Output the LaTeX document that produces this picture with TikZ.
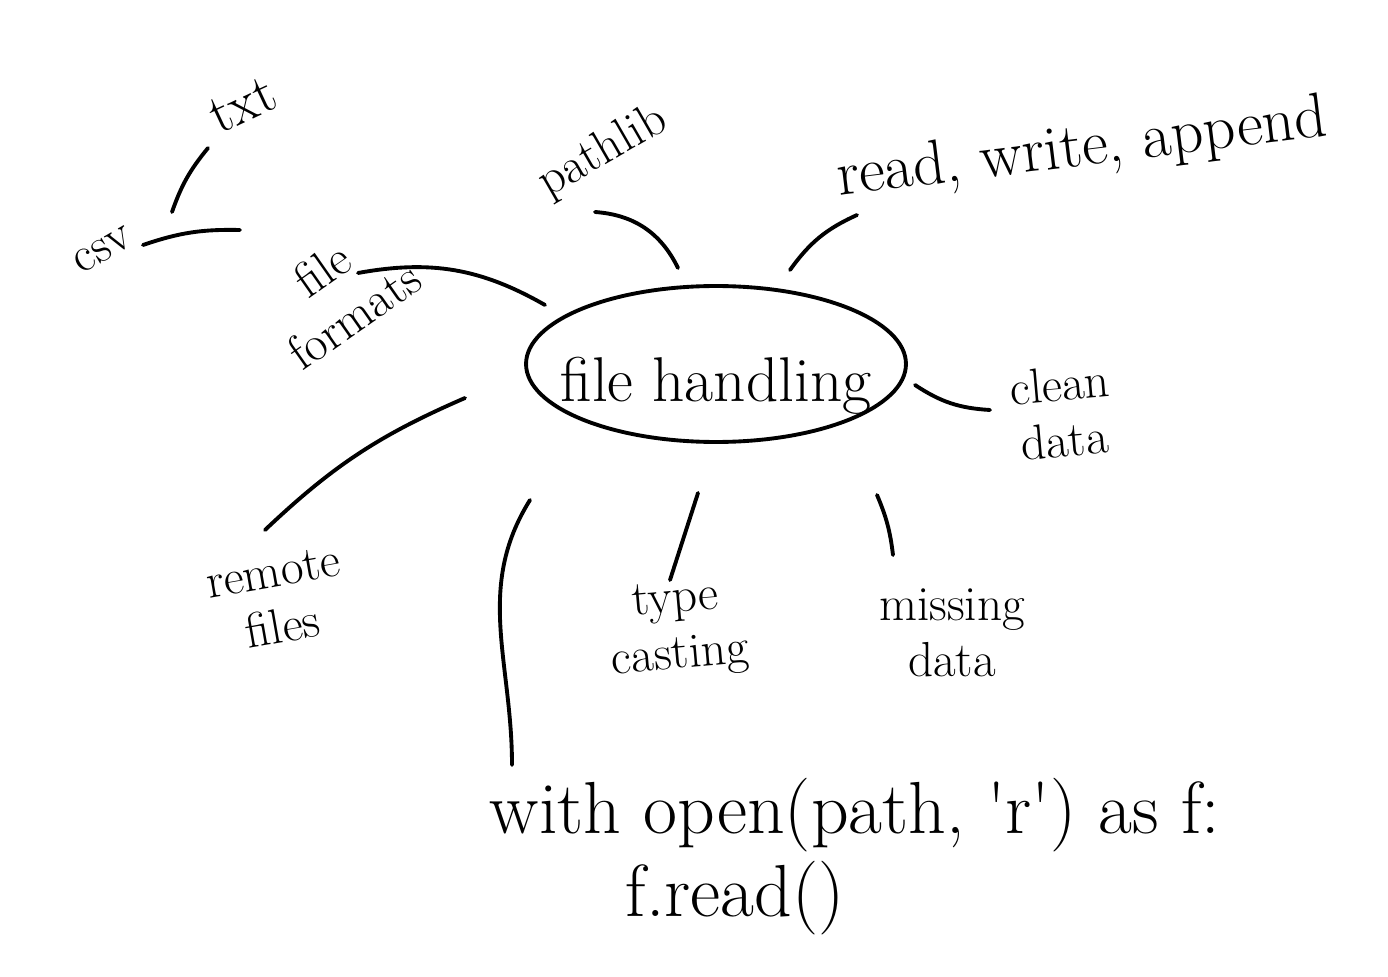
\documentclass[tikz,border=0pt]{standalone}
\usetikzlibrary{shapes.geometric}

\begin{document}
\begin{tikzpicture}[
		x=0.02cm, y=-0.02cm,
		link/.style={line width=2.2pt, line cap=round},
		topic/.style={font=\fontsize{28}{32}\selectfont, align=center, inner sep=1pt},
		hubnode/.style={draw, ellipse, line width=2.2pt, minimum width=7.6cm, minimum height=3.12cm, inner sep=0pt, font=\fontsize{36}{40}\selectfont},
		codeline/.style={font=\fontsize{42}{46}\selectfont, inner sep=1pt},
	]
		\useasboundingbox (0,0) rectangle (1388,976);
		\node[hubnode] (hub) at (716,364) {\raisebox{-0.75cm}[0pt][0pt]{\makebox[0pt]{file handling}}};
		\node[topic, rotate=30] (csv) at (103,250) {csv};
		\node[topic, rotate=25, font=\fontsize{32}{36}\selectfont] (txt) at (243,105) {txt};
		\node[topic, rotate=35] (fmt) at (338,292) {file\\formats};
		\node[topic, rotate=30] (plib) at (603,152) {pathlib};
		\node[topic, rotate=7, font=\fontsize{36}{40}\selectfont] (rwa) at (1082,150) {read, write, append};
		\node[topic, rotate=5] (clean) at (1062,412) {clean\\data};
		\node[topic, rotate=10] (remote) at (278,600) {remote\\files};
		\node[topic, rotate=5] (cast) at (678,630) {type\\casting};
		\node[topic] (missing) at (952,633) {missing\\data};
		\node[codeline] (code) at (855,815) {with open(path, \textquotesingle r\textquotesingle) as f:};
		\node[codeline] (fread) at (735,898) {f.read()};

		\draw[link] ([shift={(69,-38)}]csv.center) to[bend left=10] ([shift={(-35,43)}]txt.center);
		\draw[link] ([shift={(40,-5)}]csv.center) to[bend left=10] ([shift={(-98,-62)}]fmt.center);
		\draw[link] ([shift={(-171,-59)}]hub.center) to[bend right=20] ([shift={(20,-19)}]fmt.center);
		\draw[link] ([shift={(-38,-96)}]hub.center) to[bend right=30] ([shift={(-8,60)}]plib.center);
		\draw[link] ([shift={(74,-94)}]hub.center) to[bend left=15] ([shift={(-225,65)}]rwa.center);
		\draw[link] ([shift={(199,21)}]hub.center) to[bend right=15] ([shift={(-72,-2)}]clean.center);
		\draw[link] ([shift={(-251,34)}]hub.center) to[bend right=10] ([shift={(-13,-70)}]remote.center);
		\draw[link] ([shift={(-186,136)}]hub.center) to[out=238, in=90] ([shift={(-343,-50)}]code.center);
		\draw[link] ([shift={(-18,129)}]hub.center) -- ([shift={(-8,-50)}]cast.center);
		\draw[link] ([shift={(161,131)}]hub.center) to[bend left=8] ([shift={(-59,-78)}]missing.center);
	\end{tikzpicture}
\end{document}
